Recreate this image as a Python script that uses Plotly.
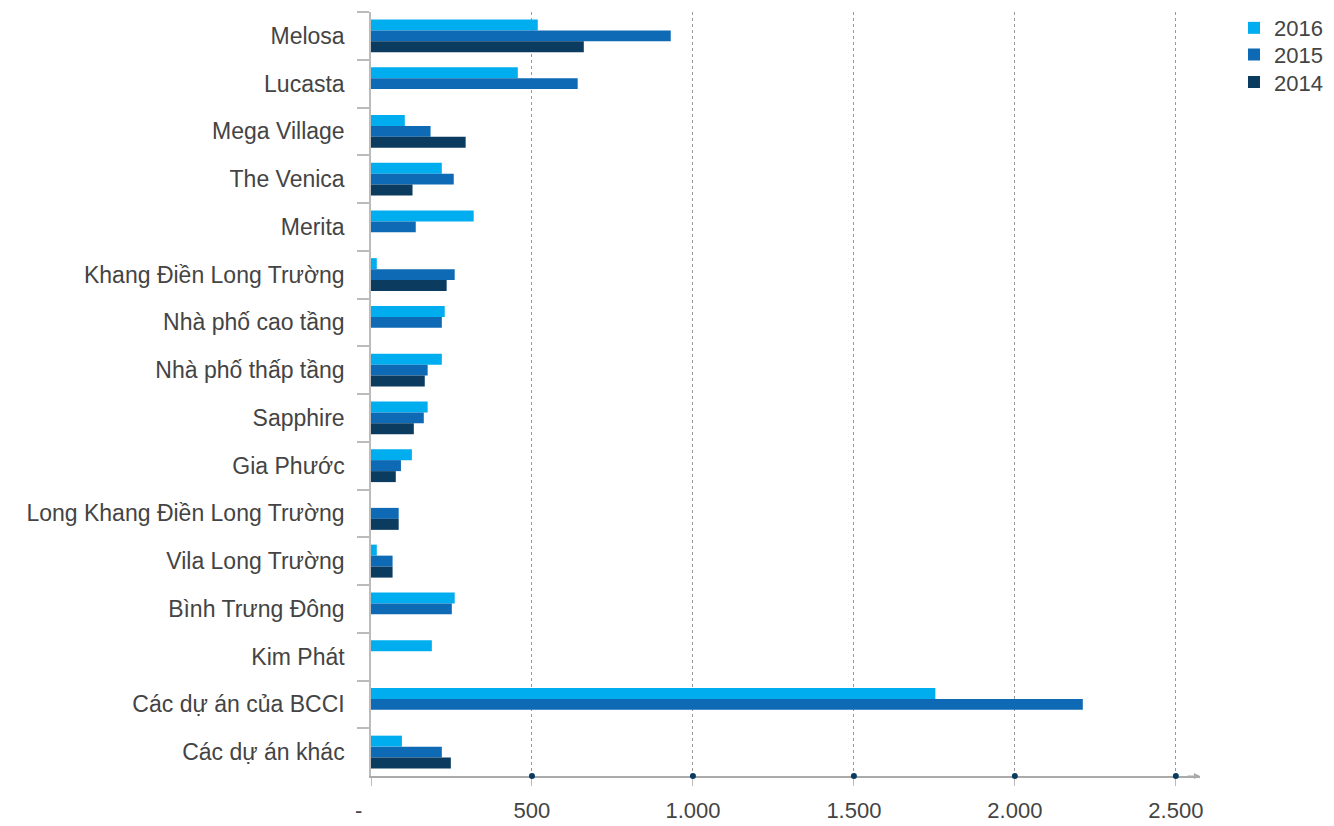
import plotly.graph_objects as go

categories = ["Melosa", "Lucasta", "Mega Village", "The Venica", "Merita",
              "Khang Điền Long Trường", "Nhà phố cao tầng", "Nhà phố thấp tầng",
              "Sapphire", "Gia Phước", "Long Khang Điền Long Trường",
              "Vila Long Trường", "Bình Trưng Đông", "Kim Phát",
              "Các dự án của BCCI", "Các dự án khác"]

v2016 = [518, 456, 105, 220, 319, 18, 229, 220, 176, 127, None, 18, 260, 189, 1753, 96]
v2015 = [931, 642, 185, 257, 139, 260, 220, 176, 164, 93, 86, 67, 251, None, 2211, 220]
v2014 = [661, None, 294, 129, None, 235, None, 167, 133, 77, 86, 67, None, None, None, 248]

series = [("2016", v2016, "#00AEEF"), ("2015", v2015, "#0E6AB4"), ("2014", v2014, "#0C3B60")]

tick_vals = [0, 500, 1000, 1500, 2000, 2500]
tick_text = ["-\u00a0\u00a0\u00a0\u00a0", "500", "1.000", "1.500", "2.000", "2.500"]

legend_ids = ["legend", "legend2", "legend3"]
legend_y = [0.979, 0.944, 0.908]

fig = go.Figure()
for (name, vals, color), lid in zip(series, legend_ids):
    fig.add_trace(go.Bar(y=categories, x=vals, name=name, orientation="h",
                         legend=lid, showlegend=True,
                         marker=dict(color=color, line=dict(width=0))))

font_family = "Liberation Sans, Arial, sans-serif"

legend_style = dict(x=1.041, xanchor="left", yanchor="middle",
                    font=dict(size=22, color="#444444"), itemwidth=30,
                    bgcolor="rgba(0,0,0,0)")

fig.update_layout(
    width=1334, height=826,
    showlegend=True,
    margin=dict(l=371, r=134, t=12, b=50, autoexpand=False),
    paper_bgcolor="white", plot_bgcolor="white",
    barmode="group", bargap=0.31, bargroupgap=0,
    font=dict(family=font_family, size=23, color="#444444"),
    legend=dict(y=legend_y[0], **legend_style),
    legend2=dict(y=legend_y[1], **legend_style),
    legend3=dict(y=legend_y[2], **legend_style),
    xaxis=dict(range=[0, 2575], tickvals=tick_vals, ticktext=tick_text,
               showgrid=True, gridcolor="#999999", griddash="3px,3px", gridwidth=1,
               zeroline=False, showline=True, linecolor="#AAAAAA", linewidth=1.5,
               ticks="outside", ticklen=8, tickcolor="#BBBBBB", tickwidth=1,
               ticklabelstandoff=6, automargin=False,
               tickfont=dict(size=22, color="#444444")),
    yaxis=dict(autorange="reversed", showgrid=False, zeroline=False,
               showline=True, linecolor="#BBBBBB", linewidth=1.5,
               ticks="outside", tickson="boundaries", ticklen=12,
               tickcolor="#BBBBBB", tickwidth=1.5, automargin=False,
               ticklabelstandoff=20, tickfont=dict(size=23, color="#444444")),
)

# Dots on the x axis at tick values
for v in tick_vals[1:]:
    fig.add_shape(type="circle", xref="x", yref="paper", xsizemode="pixel",
                  ysizemode="pixel", xanchor=v, yanchor=0,
                  x0=-3, x1=3, y0=-3, y1=3,
                  fillcolor="#0C3B60", line=dict(width=0))

# Arrow at end of x axis
fig.add_annotation(x=1.0, y=0, xref="paper", yref="paper", ax=-14, ay=0,
                   text="", showarrow=True, arrowhead=2, arrowsize=1,
                   arrowwidth=1.2, arrowcolor="#AAAAAA")

fig.write_html("out.html")
